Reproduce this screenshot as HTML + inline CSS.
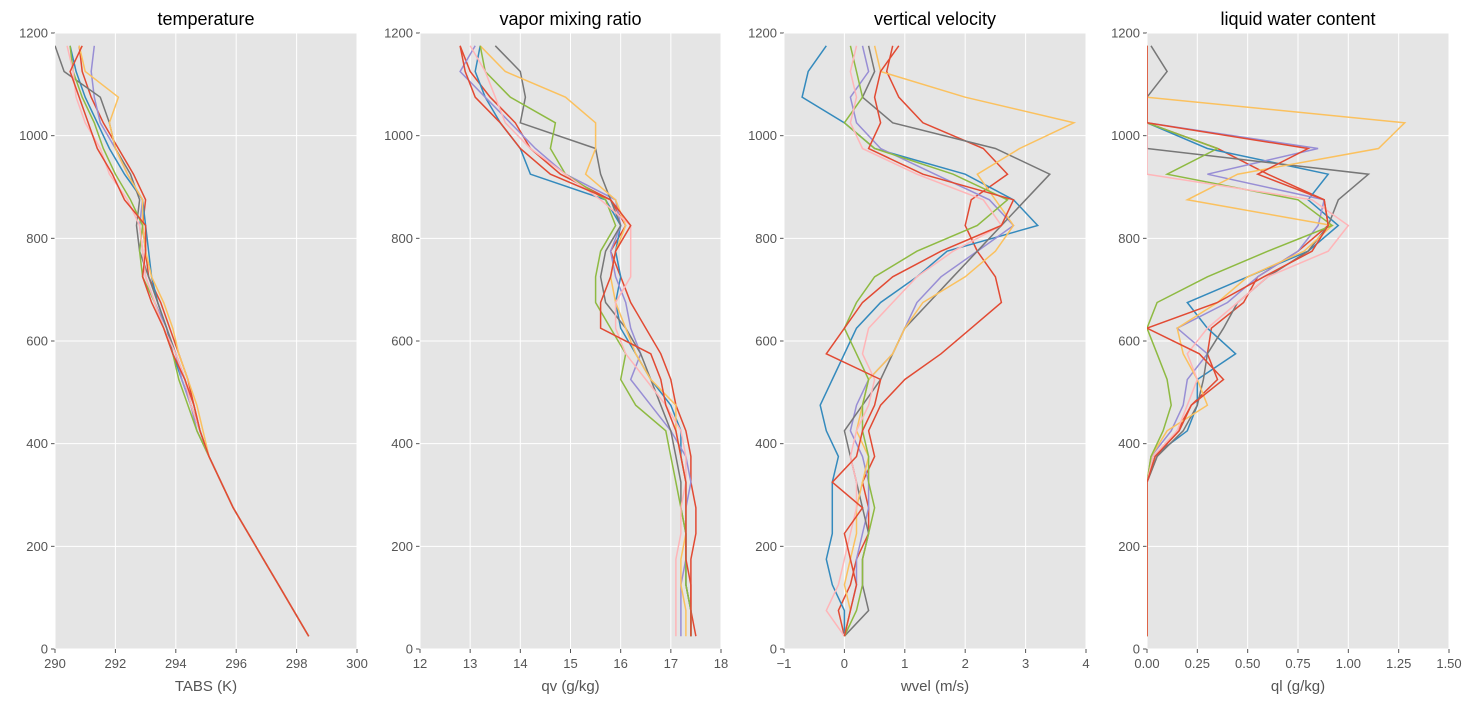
<!DOCTYPE html>
<html><head><meta charset="utf-8"><style>
html,body{margin:0;padding:0;background:#fff;}
svg{display:block;font-family:"Liberation Sans","DejaVu Sans",sans-serif;}
</style></head><body>
<svg id="chart" width="1475" height="703"></svg>
<script>
const heights=[25,75,125,175,225,275,325,375,425,475,525,575,625,675,725,775,825,875,925,975,1025,1075,1125,1175];
const yTicks=[0,200,400,600,800,1000,1200];
const colors=['#E24A33','#348ABD','#988ED5','#777777','#FBC15E','#8EBA42','#FFB5B8'];
const titles=['temperature','vapor mixing ratio','vertical velocity','liquid water content'];
const xLabels=['TABS (K)','qv (g/kg)','wvel (m/s)','ql (g/kg)'];
const xTicks0=['290','292','294','296','298','300'];
const xTicks1=['12','13','14','15','16','17','18'];
const xTicks2=['−1','0','1','2','3','4'];
const xTicks3=['0.00','0.25','0.50','0.75','1.00','1.25','1.50'];
const xTickVals=[[290,292,294,296,298,300],[12,13,14,15,16,17,18],[-1,0,1,2,3,4],[0,0.25,0.5,0.75,1,1.25,1.5]];
const xTickTexts=[xTicks0,xTicks1,xTicks2,xTicks3];
const xDomains=[[290,300],[12,18],[-1,4],[0,1.5]];
const tabs=[
[298.4,297.9,297.4,296.9,296.4,295.9,295.5,295.1,294.8,294.6,294.4,294.1,293.8,293.5,293.1,293.0,292.9,293.0,292.6,292.1,291.6,291.2,290.9,290.8],
[298.4,297.9,297.4,296.9,296.4,295.9,295.5,295.1,294.8,294.5,294.2,293.9,293.7,293.4,293.2,293.1,293.0,292.9,292.3,291.8,291.4,291.0,290.7,290.5],
[298.4,297.9,297.4,296.9,296.4,295.9,295.5,295.1,294.7,294.5,294.2,294.0,293.7,293.3,293.0,292.9,292.8,292.9,292.4,292.0,291.5,291.3,291.2,291.3],
[298.4,297.9,297.4,296.9,296.4,295.9,295.5,295.1,294.8,294.5,294.3,294.0,293.7,293.4,293.1,292.8,292.7,292.8,292.5,292.0,291.8,291.5,290.3,290.0],
[298.4,297.9,297.4,296.9,296.4,295.9,295.5,295.1,294.9,294.7,294.4,294.1,293.9,293.6,293.2,293.0,292.9,292.9,292.4,292.0,291.8,292.1,291.0,290.8],
[298.4,297.9,297.4,296.9,296.4,295.9,295.5,295.1,294.7,294.4,294.1,293.9,293.6,293.3,292.9,292.8,292.9,292.5,292.0,291.6,291.3,290.9,290.6,290.5],
[298.4,297.9,297.4,296.9,296.4,295.9,295.5,295.1,294.8,294.5,294.3,294.0,293.6,293.3,293.0,292.9,292.8,292.4,291.8,291.5,291.0,290.7,290.6,290.4],
[298.4,297.9,297.4,296.9,296.4,295.9,295.5,295.1,294.8,294.6,294.3,293.9,293.6,293.2,292.9,293.0,293.0,292.3,291.9,291.4,291.1,290.8,290.5,290.9]
];
const qv=[
[17.5,17.4,17.4,17.4,17.5,17.5,17.4,17.4,17.3,17.1,17.0,16.8,16.5,16.2,16.0,15.8,16.1,15.8,14.8,14.2,13.9,13.4,13.0,12.8],
[17.4,17.4,17.3,17.3,17.3,17.3,17.3,17.2,17.2,17.0,16.6,16.3,16.0,15.9,16.0,15.9,16.0,15.7,14.2,14.0,13.6,13.3,13.1,13.2],
[17.2,17.2,17.2,17.3,17.3,17.3,17.4,17.3,17.0,16.6,16.2,16.4,16.2,16.1,15.9,15.8,16.0,15.9,14.9,14.3,13.8,13.3,12.8,13.1],
[17.4,17.4,17.3,17.3,17.3,17.2,17.2,17.1,17.0,16.8,16.6,16.4,16.1,15.7,15.6,15.7,16.0,15.8,15.6,15.5,14.0,14.1,14.0,13.5],
[17.3,17.3,17.2,17.2,17.3,17.3,17.3,17.2,17.1,17.1,16.6,16.3,16.1,15.9,15.8,15.9,16.1,15.9,15.3,15.5,15.5,14.9,13.7,13.2],
[17.4,17.4,17.3,17.3,17.3,17.2,17.1,17.0,16.9,16.3,16.0,16.1,15.8,15.5,15.5,15.6,15.9,15.7,14.9,14.6,14.7,13.8,13.3,13.2],
[17.1,17.1,17.1,17.1,17.2,17.2,17.3,17.3,17.2,16.9,16.5,16.1,15.9,15.9,16.2,16.2,16.2,15.6,14.9,14.2,13.7,13.5,13.3,13.0],
[17.4,17.4,17.4,17.3,17.3,17.3,17.3,17.2,17.1,16.9,16.8,16.6,15.6,15.6,15.8,15.9,16.2,15.8,14.6,14.0,13.6,13.1,12.9,12.8]
];
const wvel=[
[0.0,-0.1,0.1,0.2,0.4,0.4,0.3,0.5,0.4,0.6,1.0,1.6,2.1,2.6,2.5,2.2,2.0,2.1,2.7,2.3,1.3,0.9,0.7,0.8],
[0.0,0.0,-0.2,-0.3,-0.2,-0.2,-0.2,-0.1,-0.3,-0.4,-0.2,0.0,0.2,0.6,1.2,1.7,3.2,2.8,2.0,0.5,0.0,-0.7,-0.6,-0.3],
[0.0,0.1,0.2,0.2,0.3,0.4,0.4,0.3,0.1,0.2,0.4,0.8,1.0,1.2,1.6,2.2,2.8,2.4,1.5,0.6,0.2,0.1,0.4,0.3],
[0.0,0.4,0.3,0.3,0.4,0.3,0.2,0.1,0.0,0.3,0.6,0.8,1.0,1.4,1.8,2.2,2.6,3.0,3.4,2.5,0.8,0.3,0.5,0.4],
[0.0,0.1,0.0,0.1,0.2,0.2,0.3,0.4,0.2,0.3,0.4,0.8,1.0,1.3,2.0,2.5,2.8,2.5,2.2,2.9,3.8,2.0,0.6,0.5],
[0.0,0.2,0.3,0.3,0.4,0.5,0.4,0.4,0.3,0.3,0.4,0.2,0.0,0.2,0.5,1.2,2.2,2.7,1.8,0.5,0.0,0.3,0.2,0.1],
[0.0,-0.3,-0.1,0.0,0.1,0.2,0.2,0.1,0.2,0.4,0.5,0.3,0.4,0.8,1.2,1.8,2.6,2.3,1.2,0.3,0.1,0.2,0.1,0.2],
[0.0,0.1,0.2,0.1,0.0,0.3,-0.2,0.2,0.3,0.5,0.6,-0.3,0.0,0.3,0.8,1.6,2.6,2.8,1.3,0.4,0.6,0.5,0.6,0.9]
];
const ql=[
[0,0,0,0,0,0,0.0,0.05,0.15,0.22,0.35,0.30,0.32,0.48,0.55,0.75,0.90,0.88,0.60,0.35,0.0,0,0,0],
[0,0,0,0,0,0,0.0,0.03,0.2,0.25,0.25,0.44,0.3,0.2,0.50,0.80,0.95,0.80,0.90,0.30,0.0,0,0,0],
[0,0,0,0,0,0,0.0,0.02,0.12,0.18,0.2,0.3,0.15,0.4,0.55,0.75,0.85,0.88,0.3,0.85,0.0,0,0,0],
[0,0,0,0,0,0,0.0,0.05,0.18,0.25,0.28,0.3,0.38,0.45,0.6,0.8,0.9,0.95,1.1,0.0,0,0,0.10,0.02],
[0,0,0,0,0,0,0.0,0.02,0.1,0.3,0.25,0.18,0.15,0.35,0.5,0.78,0.92,0.2,0.45,1.15,1.28,0.0,0,0],
[0,0,0,0,0,0,0.0,0.02,0.08,0.12,0.1,0.05,0.0,0.05,0.3,0.6,0.92,0.75,0.1,0.35,0.0,0,0,0],
[0,0,0,0,0,0,0.0,0.03,0.15,0.2,0.25,0.2,0.3,0.45,0.6,0.9,1.0,0.82,0.0,0,0,0,0,0],
[0,0,0,0,0,0,0.0,0.04,0.16,0.22,0.38,0.26,0.0,0.35,0.58,0.82,0.9,0.88,0.55,0.8,0.0,0,0,0]
];
const seriesColorIdx=[0,1,2,3,4,5,6,0];
const panelsData=[tabs,qv,wvel,ql];

const NS='http://www.w3.org/2000/svg';
const svg=document.getElementById('chart');
const panelX=[[55,357],[420,721],[784,1086],[1147,1449]];
const plotTop=33,plotBot=649;
function yS(v){return plotBot-(v/1200)*(plotBot-plotTop);}
function mk(tag,attrs,parent){const e=document.createElementNS(NS,tag);for(const k in attrs)e.setAttribute(k,attrs[k]);(parent||svg).appendChild(e);return e;}

for(let p=0;p<4;p++){
  const [x0,x1]=panelX[p];const [d0,d1]=xDomains[p];
  const xS=v=>x0+(v-d0)/(d1-d0)*(x1-x0);
  const g=mk('g',{});
  
  
  const cp=mk('clipPath',{id:'clip'+p},g);
  mk('rect',{x:x0,y:plotTop,width:x1-x0,height:plotBot-plotTop},cp);
  const bg=mk('rect',{x:x0,y:plotTop,width:x1-x0,height:plotBot-plotTop,fill:'#E5E5E5'},g);
  
  
  yTicks.forEach(t=>{
    mk('line',{x1:x0,x2:x1,y1:yS(t),y2:yS(t),stroke:'#fff','stroke-width':1},g);
    mk('line',{x1:x0-4,x2:x0,y1:yS(t),y2:yS(t),stroke:'#555'},g);
    const tx=mk('text',{x:x0-7,y:yS(t)+4.5,'text-anchor':'end','font-size':13,fill:'#555'},g);
    tx.textContent=t;
    
    
  });
  xTickVals[p].forEach((t,i)=>{
    mk('line',{x1:xS(t),x2:xS(t),y1:plotTop,y2:plotBot,stroke:'#fff','stroke-width':1},g);
    mk('line',{x1:xS(t),x2:xS(t),y1:plotBot,y2:plotBot+4,stroke:'#555'},g);
    const tx=mk('text',{x:xS(t),y:plotBot+19,'text-anchor':'middle','font-size':13,fill:'#555'},g);
    tx.textContent=xTickTexts[p][i];
    
    
  });
  panelsData[p].forEach((s,si)=>{
    const pts=s.map((v,i)=>xS(v).toFixed(1)+','+yS(heights[i]).toFixed(1)).join(' ');
    const pl=mk('polyline',{points:pts,fill:'none',stroke:colors[seriesColorIdx[si]],'stroke-width':1.5,'clip-path':'url(#clip'+p+')'},g);
    
    
  });
  const tt=mk('text',{x:(x0+x1)/2,y:25,'text-anchor':'middle','font-size':18,fill:'#000'},g);
  tt.textContent=titles[p];
  
  
  const xl=mk('text',{x:(x0+x1)/2,y:691,'text-anchor':'middle','font-size':15,fill:'#555'},g);
  xl.textContent=xLabels[p];
  
  
}
</script>
</body></html>
